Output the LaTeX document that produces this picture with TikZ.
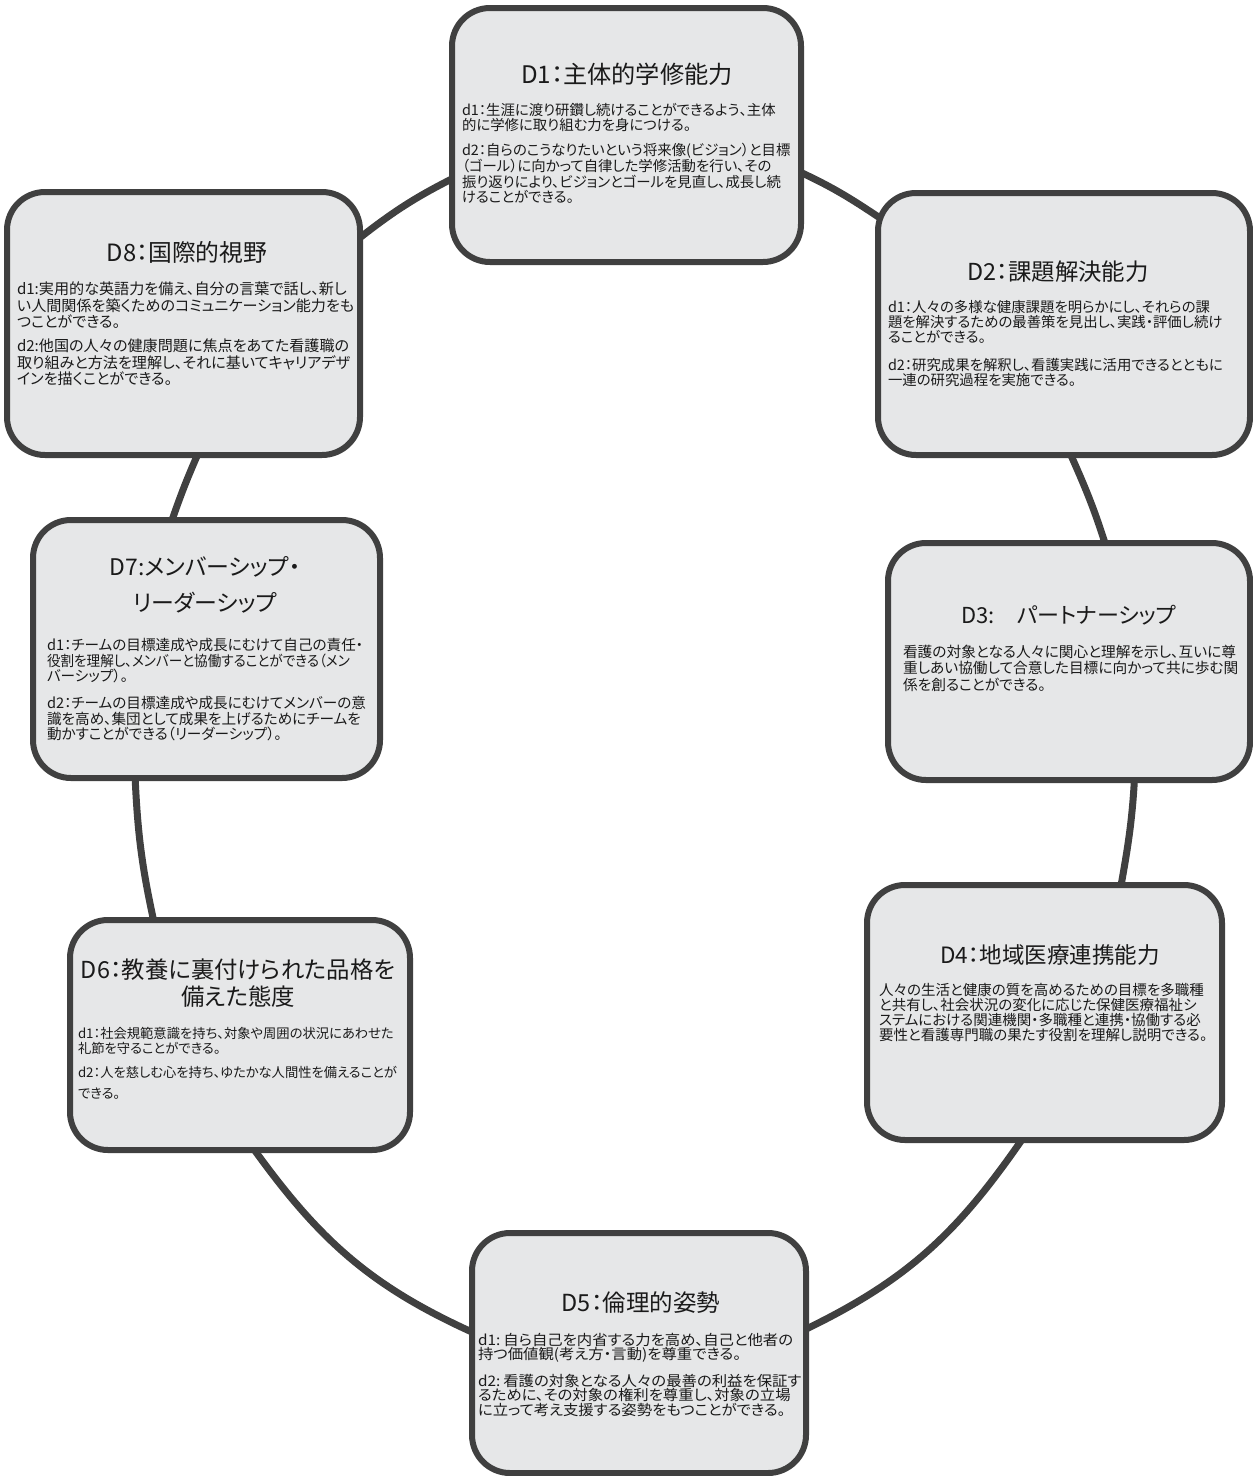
\documentclass[tikz,border=0pt]{standalone}
\usepackage{fontspec}
\usepackage{graphicx}
\setmainfont{Noto Sans CJK JP}[RawFeature=+palt]
\pgfdeclarelayer{background}
\pgfsetlayers{background,main}
\definecolor{boxfill}{HTML}{E6E7E8}
\definecolor{boxline}{HTML}{404040}
\definecolor{inktext}{HTML}{1A1A1A}
\newcommand{\fsz}[2]{\fontsize{#1pt}{#2pt}\selectfont}
\tikzset{
  box/.style={draw=boxline, fill=boxfill, line width=6pt, rounded corners=38pt, inner sep=0pt, outer sep=0pt},
  conn/.style={draw=boxline, line width=7pt, shorten <=-30pt, shorten >=-30pt},
  ttl/.style={inner sep=0pt, outer sep=0pt, text=inktext, align=center, anchor=base, text width=340pt},
  bodytext/.style={inner sep=0pt, outer sep=0pt, text=inktext, align=left, anchor=base west, text width=380pt},
}
\begin{document}
\begin{tikzpicture}[x=1pt,y=1pt]
\useasboundingbox (0,0) rectangle (1253,-1476);
% boxes
\node[box, minimum width=349pt, minimum height=254pt] (d1) at (626.5,-135) {};
\node[box, minimum width=372pt, minimum height=262pt] (d2) at (1064,-324) {};
\node[box, minimum width=362pt, minimum height=237pt] (d3) at (1069,-661.5) {};
\node[box, minimum width=355pt, minimum height=255pt] (d4) at (1044.5,-1012.5) {};
\node[box, minimum width=334pt, minimum height=240pt] (d5) at (639,-1353) {};
\node[box, minimum width=340pt, minimum height=230pt] (d6) at (240,-1035) {};
\node[box, minimum width=347pt, minimum height=258pt] (d7) at (206.5,-649) {};
\node[box, minimum width=353pt, minimum height=263pt] (d8) at (183.5,-323.5) {};
% titles
\node[ttl, font=\fsz{24.2}{29}] (d1t) at (627,-83.4) {D1：主体的学修能力};
\node[ttl, font=\fsz{23.4}{29}] (d2t) at (1058,-280.4) {D2：課題解決能力};
\node[ttl, font=\fsz{22}{27}] (d3t) at (1069,-623.4) {D3:　パートナーシップ};
\node[ttl, font=\fsz{22.5}{27}] (d4t) at (1050,-963.4) {D4：地域医療連携能力};
\node[ttl, font=\fsz{23.5}{29}] (d5t) at (641,-1311.4) {D5：倫理的姿勢};
\node[ttl, font=\fsz{23.4}{27}] (d6t) at (238,-978.4) {D6：教養に裏付けられた品格を\\備えた態度};
\node[ttl, font=\fsz{22.9}{36}] (d7t) at (205,-575.4) {D7:メンバーシップ・\\リーダーシップ};
\node[ttl, font=\fsz{23.8}{29}] (d8t) at (187,-261.4) {D8：国際的視野};
% bodies
\node[bodytext, font=\fsz{14.4}{15.7}] (d1b) at (462,-115.2) {d1：生涯に渡り研鑽し続けることができるよう、主体\\
的に学修に取り組む力を身につける。\\[9pt]
d2：自らのこうなりたいという将来像(ビジョン）と目標\\
（ゴール）に向かって自律した学修活動を行い、その\\
振り返りにより、ビジョンとゴールを見直し、成長し続\\
けることができる。};
\node[bodytext, font=\fsz{14.4}{15}] (d2b) at (888,-312.3) {d1：人々の多様な健康課題を明らかにし、それらの課\\
題を解決するための最善策を見出し、実践・評価し続け\\
ることができる。\\[13pt]
d2：研究成果を解釈し、看護実践に活用できるとともに\\
一連の研究過程を実施できる。};
\node[bodytext, font=\fsz{14.7}{16.5}] (d3b) at (903,-657.3) {看護の対象となる人々に関心と理解を示し、互いに尊\\
重しあい協働して合意した目標に向かって共に歩む関\\
係を創ることができる。};
\node[bodytext, font=\fsz{14.5}{15}] (d4b) at (879,-995.5) {人々の生活と健康の質を高めるための目標を多職種\\
と共有し、社会状況の変化に応じた保健医療福祉シ\\
ステムにおける関連機関・多職種と連携・協働する必\\
要性と看護専門職の果たす役割を理解し説明できる。};
\node[bodytext, font=\fsz{14.5}{14.2}\addfontfeature{FakeStretch=1.06}] (d5b) at (478,-1345.5) {d1:\hspace{3pt}自ら自己を内省する力を高め、自己と他者の\\
持つ価値観(考え方・言動)を尊重できる。\\[11pt]
d2:\hspace{3pt}看護の対象となる人々の最善の利益を保証す\\
るために、その対象の権利を尊重し、対象の立場\\
に立って考え支援する姿勢をもつことができる。};
\node[bodytext, font=\fsz{13.3}{15}] (d6b) at (78,-1038) {d1：社会規範意識を持ち、対象や周囲の状況にあわせた\\
礼節を守ることができる。\\[9pt]
d2：人を慈しむ心を持ち、ゆたかな人間性を備えることが\\[6pt]
できる。};
\node[bodytext, font=\fsz{14.6}{15.7}] (d7b) at (47,-650.4) {d1：チームの目標達成や成長にむけて自己の責任・\\
\scalebox{0.93}[1]{役割を理解し、メンバーと協働することができる（メン}\\
バーシップ）。\\[11pt]
d2：チームの目標達成や成長にむけてメンバーの意\\
識を高め、集団として成果を上げるためにチームを\\
動かすことができる（リーダーシップ）。};
\node[bodytext, font=\fsz{15.1}{16.7}] (d8b) at (17,-294.4) {d1:実用的な英語力を備え、自分の言葉で話し、新し\\
い人間関係を築くためのコミュニケーション能力をも\\
つことができる。\\[7pt]
d2:他国の人々の健康問題に焦点をあてた看護職の\\
取り組みと方法を理解し、それに基いてキャリアデザ\\
インを描くことができる。};
% connectors
\begin{pgfonlayer}{background}
\fill[white] (0,0) rectangle (1253,-1476);
\draw[conn] (d1.-12) to[out=-23.5, in=145.7] (d2.150);
\draw[conn] (d2.-87) to[out=-65.8, in=106.4] (d3.73);
\draw[conn] (d3.-61) to[out=-92.1, in=79.8] (d4.59);
\draw[conn] (d4.-100) to[out=-123.6, in=24.2] (d5.8);
\draw[conn] (d5.173) to[out=157.2, in=-55.3] (d6.-83);
\draw[conn] (d6.127) to[out=103, in=-88] (d7.-119);
\draw[conn] (d7.105) to[out=71.6, in=-114.2] (d8.-84);
\draw[conn] (d8.26) to[out=38.8, in=-154.4] (d1.-166);
\end{pgfonlayer}
\end{tikzpicture}
\end{document}
